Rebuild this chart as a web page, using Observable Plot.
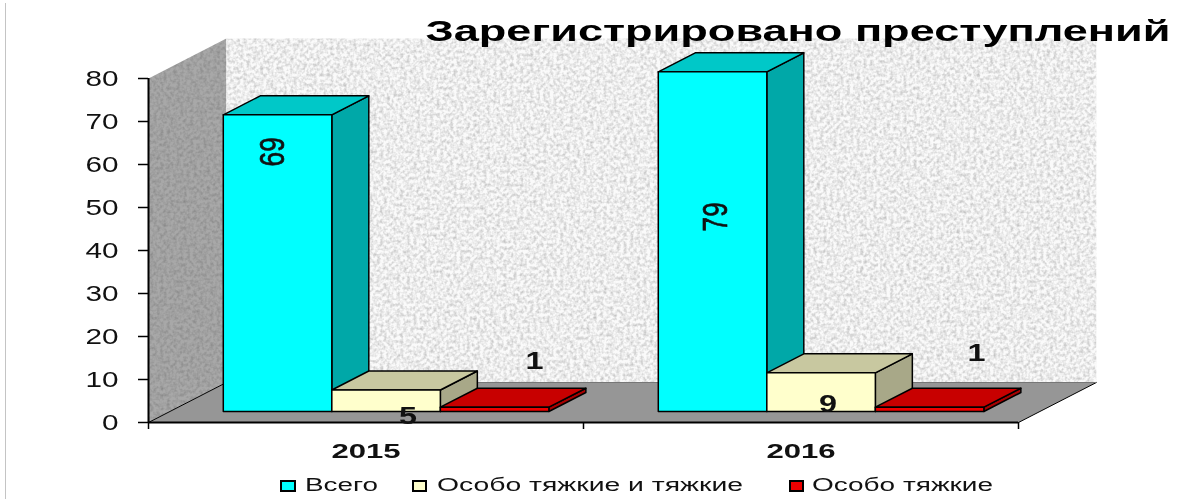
<!DOCTYPE html>
<html lang="ru">
<head>
<meta charset="utf-8">
<script src="https://cdn.jsdelivr.net/npm/d3@7"></script>
<script src="https://cdn.jsdelivr.net/npm/@observablehq/plot@0.6"></script>
<style>
html,body{margin:0;padding:0;background:#fff;overflow:hidden}
#wrap{position:relative;width:1186px;height:499px;font-family:"Liberation Sans",Arial,sans-serif;color:#000;filter:blur(0.4px)}
#edge{position:absolute;left:5px;top:3px;bottom:0;width:1px;background:#c4c4c4}
#legend{position:absolute;left:0;top:470px;width:1186px;height:29px}
.sw{position:absolute;top:10px;height:8px;border:2px solid #000;box-sizing:content-box}
.lt{position:absolute;top:5px;font-size:18px;line-height:21px;white-space:pre;transform-origin:left center;color:#111}
</style>
</head>
<body>
<div id="wrap"><div id="edge"></div><div id="chart"></div><div id="legend"></div></div>
<script>
const chartTitle = "Зарегистрировано преступлений";
const years = ["2015", "2016"];
const seriesNames = ["Всего", "Особо тяжкие и тяжкие", "Особо тяжкие"];
const totalValues = [69, 79];
const graveValues = [5, 9];
const extremeValues = [1, 1];
const yTicks = [0, 10, 20, 30, 40, 50, 60, 70, 80];
const frontColors = ["#00ffff", "#ffffcc", "#ee0000"];
const topColors = ["#00c8c8", "#c8c8a0", "#c80000"];
const sideColors = ["#00a8a8", "#a8a888", "#a80000"];
// [dx, dy] of each value label from the top-centre of its bar, in pixels
const labelNudges = [[[-5, 37], [22, 26], [40, -46]], [[3, 145], [7, 32], [47, -54]]];

const seriesValues = [totalValues, graveValues, extremeValues];
const depthX = 0.179, depthY = 9.3;       // full floor depth in x and y scale units
const barStart = 0.1227, barWidth = 0.2495, barNear = 0.275, barFar = 0.75;
const at = (x, v, d) => ({x: x + d * depthX, y: v + d * depthY});
const poly = (pts, fill, extra = {}) => Plot.line(pts, {x: "x", y: "y", curve: "linear-closed", fill, stroke: "#000", strokeWidth: 1.5, ...extra});

const marks = [];
// walls and floor
marks.push(poly([at(0, 0, 0), at(0, 80, 0), at(0, 80, 1), at(0, 0, 1)], "#a8a8a8", {stroke: "none", imageFilter: "url(#speckle)"}));
marks.push(poly([at(0, 0, 1), at(0, 80, 1), at(2, 80, 1), at(2, 0, 1)], "#fafafa", {stroke: "none", imageFilter: "url(#speckle)"}));
marks.push(poly([at(0, 0, 0), at(2, 0, 0), at(2, 0, 1), at(0, 0, 1)], "#969696", {stroke: "none"}));
marks.push(Plot.line([at(0, 0, 0), at(0, 0, 1)], {x: "x", y: "y", stroke: "#000", strokeWidth: 1}));
marks.push(Plot.line([at(2, 0, 0), at(2, 0, 1)], {x: "x", y: "y", stroke: "#000", strokeWidth: 1}));
marks.push(Plot.line([at(0, 0, 1), at(2, 0, 1)], {x: "x", y: "y", stroke: "#777", strokeWidth: 1}));

// bars, painted back to front
years.forEach((year, c) => {
  seriesValues.forEach((vals, s) => {
    const v = vals[c];
    const x0 = c + barStart + s * barWidth, x1 = x0 + barWidth;
    marks.push(poly([at(x1, 0, barNear), at(x1, v, barNear), at(x1, v, barFar), at(x1, 0, barFar)], sideColors[s]));
    marks.push(poly([at(x0, v, barNear), at(x1, v, barNear), at(x1, v, barFar), at(x0, v, barFar)], topColors[s]));
    marks.push(poly([at(x0, 0, barNear), at(x1, 0, barNear), at(x1, v, barNear), at(x0, v, barNear)], frontColors[s]));
  });
});

// axes
marks.push(Plot.ruleX([0], {stroke: "#000", strokeWidth: 2}));
marks.push(Plot.ruleY([0], {stroke: "#000", strokeWidth: 2}));
marks.push(Plot.axisY({ticks: yTicks, tickSize: 10, tickPadding: 20, fontSize: 22, stroke: "#000", strokeWidth: 1.5, color: "#111", label: null}));
marks.push(Plot.axisX({ticks: [0, 1, 2], tickSize: 7, stroke: "#000", strokeWidth: 1.5, tickFormat: () => "", label: null}));
marks.push(Plot.axisX({ticks: [0.5, 1.5], tickSize: 0, tickPadding: 21, fontSize: 21, fontWeight: "bold", color: "#111", tickFormat: d => years[Math.floor(d)], label: null}));

// value labels
years.forEach((year, c) => {
  seriesValues.forEach((vals, s) => {
    const v = vals[c];
    const p = at(c + barStart + (s + 0.5) * barWidth, v, barNear);
    const [dx, dy] = labelNudges[c][s];
    const rotated = s === 0;
    marks.push(Plot.text([String(v)], {
      x: () => p.x, y: () => p.y, text: d => d, dx, dy,
      rotate: rotated ? -90 : 0,
      fontSize: rotated ? 35 : 24,
      fontWeight: rotated ? "normal" : "bold",
      fill: "#111",
      stroke: rotated ? "#111" : "none",
      strokeWidth: rotated ? 0.7 : 0
    }));
  });
});

// title
marks.push(Plot.text([chartTitle], {frameAnchor: "top-left", dx: 277, dy: -47, textAnchor: "start", lineAnchor: "middle", fontSize: 30, fontWeight: "bold", fill: "#000"}));

const svg = Plot.plot({
  width: 1186, height: 470,
  marginLeft: 148, marginRight: 168, marginTop: 78, marginBottom: 48,
  style: {fontFamily: "'Liberation Sans', Arial, sans-serif", background: "transparent", overflow: "visible"},
  x: {domain: [0, 2], axis: null},
  y: {domain: [0, 80], axis: null},
  marks
});
document.getElementById("chart").appendChild(svg);

// speckled texture for the walls
const defs = d3.select(svg).insert("defs", ":first-child");
const f = defs.append("filter").attr("id", "speckle").attr("x", 0).attr("y", 0).attr("width", 1).attr("height", 1).attr("color-interpolation-filters", "sRGB");
f.append("feTurbulence").attr("type", "fractalNoise").attr("baseFrequency", 0.3).attr("numOctaves", 2).attr("seed", 4).attr("result", "n");
f.append("feColorMatrix").attr("in", "n").attr("type", "matrix").attr("values", "0 0 0 0 0.3  0 0 0 0 0.3  0 0 0 0 0.3  0.6 0 0 0 -0.22").attr("result", "a");
f.append("feComposite").attr("in", "a").attr("in2", "SourceGraphic").attr("operator", "atop");

// the reference's text is stretched sideways: target factor by font size
const stretchBySize = {22: 1.35, 21: 1.48, 24: 1.35, 35: 0.75};
svg.querySelectorAll("text").forEach(t => {
  const size = Math.round(parseFloat(getComputedStyle(t).fontSize));
  const len = t.getComputedTextLength();
  if (!len) return;
  const target = size === 30 ? 745 : stretchBySize[size] ? stretchBySize[size] * len : 0;
  if (target) {
    t.setAttribute("lengthAdjust", "spacingAndGlyphs");
    t.setAttribute("textLength", target);
  }
});

// legend below the plot
const legend = document.getElementById("legend");
const legendLayout = [[280, 16, 305, 73], [412, 15, 437, 306], [789, 15, 812, 181]];
seriesNames.forEach((name, i) => {
  const [sx, sw, tx, tw] = legendLayout[i];
  const box = document.createElement("div");
  box.className = "sw";
  box.style.left = sx + "px";
  box.style.width = (sw - 4) + "px";
  box.style.background = frontColors[i];
  legend.appendChild(box);
  const t = document.createElement("div");
  t.className = "lt";
  t.style.left = tx + "px";
  t.textContent = name;
  legend.appendChild(t);
  t.style.transform = `scaleX(${tw / t.getBoundingClientRect().width})`;
});
</script>
</body>
</html>
